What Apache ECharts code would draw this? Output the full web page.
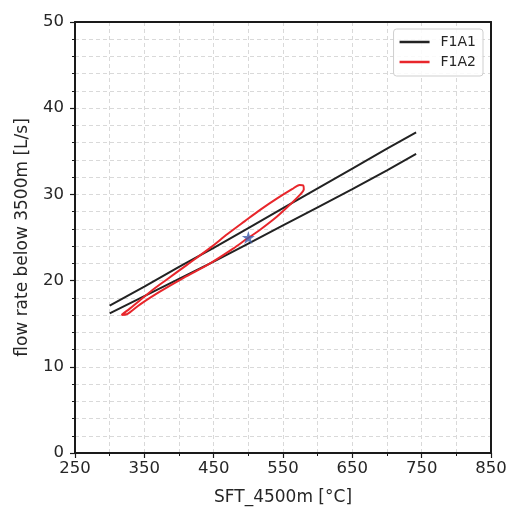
<!DOCTYPE html>
<html>
<head>
<meta charset="utf-8">
<script src="https://cdn.jsdelivr.net/npm/echarts@6/dist/echarts.min.js"></script>
<style>html,body{margin:0;padding:0;background:#fff}#c{width:507px;height:510px}</style>
</head>
<body>
<div id="c"></div>
<script>
// ---- data ----
const blackUpperX = [300, 350, 400, 450, 500, 550, 600, 650, 700, 742];
const blackUpperY = [17.1, 19.3, 21.6, 23.8, 26.1, 28.4, 30.7, 33.0, 35.3, 37.2];
const blackLowerX = [300, 350, 400, 450, 500, 550, 600, 650, 700, 742];
const blackLowerY = [16.2, 18.2, 20.2, 22.2, 24.3, 26.4, 28.5, 30.6, 32.8, 34.7];
const redX = [317, 329, 345, 360, 382, 411, 445, 470, 495, 517, 541, 563, 574, 579, 580, 575, 560, 541, 517, 498, 478, 445, 406, 373, 344, 325, 317];
const redY = [16.0, 16.75, 17.8, 18.8, 20.1, 21.8, 23.8, 25.4, 26.9, 28.2, 29.5, 30.6, 31.1, 31.05, 30.6, 30.0, 28.8, 27.4, 25.9, 24.85, 23.7, 22.0, 20.3, 18.75, 17.25, 16.1, 16.0];
const starX = [500];
const starY = [25];
const seriesNames = ['F1A1', 'F1A2'];
const xTitle = 'SFT_4500m [°C]';
const yTitle = 'flow rate below 3500m [L/s]';

const zip = (xs, ys) => xs.map((x, i) => [x, ys[i]]);
const font = 'DejaVu Sans';
const txt = '#262626';
const gridLine = {show: true, lineStyle: {color: '#d9d9d9', type: [4, 3], width: 1}};

const chart = echarts.init(document.getElementById('c'), null, {renderer: 'canvas'});
const starPath = 'path://M50,0 L61.8,35.5 L100,35.5 L69.1,57.6 L80.9,94.1 L50,72 L19.1,94.1 L30.9,57.6 L0,35.5 L38.2,35.5 Z';

chart.setOption({
  animation: false,
  textStyle: {fontFamily: font},
  grid: {left: 75, right: 16, top: 22, bottom: 57, containLabel: false, outerBoundsMode: 'none'},
  legend: {
    data: seriesNames.map(n => ({name: n, icon: 'rect'})),
    orient: 'vertical',
    right: 24,
    top: 29,
    itemWidth: 30,
    itemHeight: 2.5,
    itemGap: 4,
    padding: [5, 7, 6, 6],
    borderColor: '#cfcfcf',
    borderWidth: 1,
    borderRadius: 3,
    backgroundColor: 'rgba(255,255,255,0.85)',
    textStyle: {fontFamily: font, fontSize: 14, lineHeight: 16, color: txt, padding: [0, 0, 0, 6]}
  },
  xAxis: [{
    type: 'value', min: 250, max: 850, interval: 100,
    name: xTitle, nameLocation: 'middle', nameGap: 36,
    nameTextStyle: {fontFamily: font, fontSize: 17, color: txt},
    axisLine: {show: true, onZero: false, lineStyle: {color: '#1a1a1a', width: 2}},
    axisTick: {show: true, inside: false, length: 5, lineStyle: {color: '#1a1a1a', width: 1.2}},
    minorTick: {show: true, splitNumber: 2, length: 3, lineStyle: {color: '#1a1a1a', width: 1}},
    axisLabel: {fontFamily: font, fontSize: 16.5, color: txt, margin: 7},
    splitLine: gridLine,
    minorSplitLine: gridLine
  }, {
    type: 'value', position: 'top', min: 250, max: 850, interval: 100,
    axisLine: {show: true, onZero: false, lineStyle: {color: '#1a1a1a', width: 2}},
    axisTick: {show: false}, axisLabel: {show: false}, splitLine: {show: false}
  }],
  yAxis: [{
    type: 'value', min: 0, max: 50, interval: 10,
    name: yTitle, nameLocation: 'middle', nameGap: 44, nameRotate: 90,
    nameTextStyle: {fontFamily: font, fontSize: 17, color: txt},
    axisLine: {show: true, onZero: false, lineStyle: {color: '#1a1a1a', width: 2}},
    axisTick: {show: true, inside: false, length: 5, lineStyle: {color: '#1a1a1a', width: 1.2}},
    minorTick: {show: true, splitNumber: 5, length: 3, lineStyle: {color: '#1a1a1a', width: 1}},
    axisLabel: {fontFamily: font, fontSize: 16.5, color: txt, margin: 11},
    splitLine: gridLine,
    minorSplitLine: gridLine
  }, {
    type: 'value', position: 'right', min: 0, max: 50, interval: 10,
    axisLine: {show: true, onZero: false, lineStyle: {color: '#1a1a1a', width: 2}},
    axisTick: {show: false}, axisLabel: {show: false}, splitLine: {show: false}
  }],
  series: [
    {name: seriesNames[0], type: 'line', data: zip(blackUpperX, blackUpperY), symbol: 'none', smooth: false,
     lineStyle: {color: '#222222', width: 2}, itemStyle: {color: '#222222'}},
    {name: seriesNames[0], type: 'line', data: zip(blackLowerX, blackLowerY), symbol: 'none', smooth: false,
     lineStyle: {color: '#222222', width: 2}, itemStyle: {color: '#222222'}},
    {name: seriesNames[1], type: 'line', data: zip(redX, redY), symbol: 'none', smooth: 0.3,
     lineStyle: {color: '#e8262b', width: 2}, itemStyle: {color: '#e8262b'}},
    {name: 'star', type: 'scatter', data: zip(starX, starY), symbol: starPath, symbolSize: 13,
     itemStyle: {color: '#3f5fad'}, z: 5}
  ]
});
</script>
</body>
</html>
